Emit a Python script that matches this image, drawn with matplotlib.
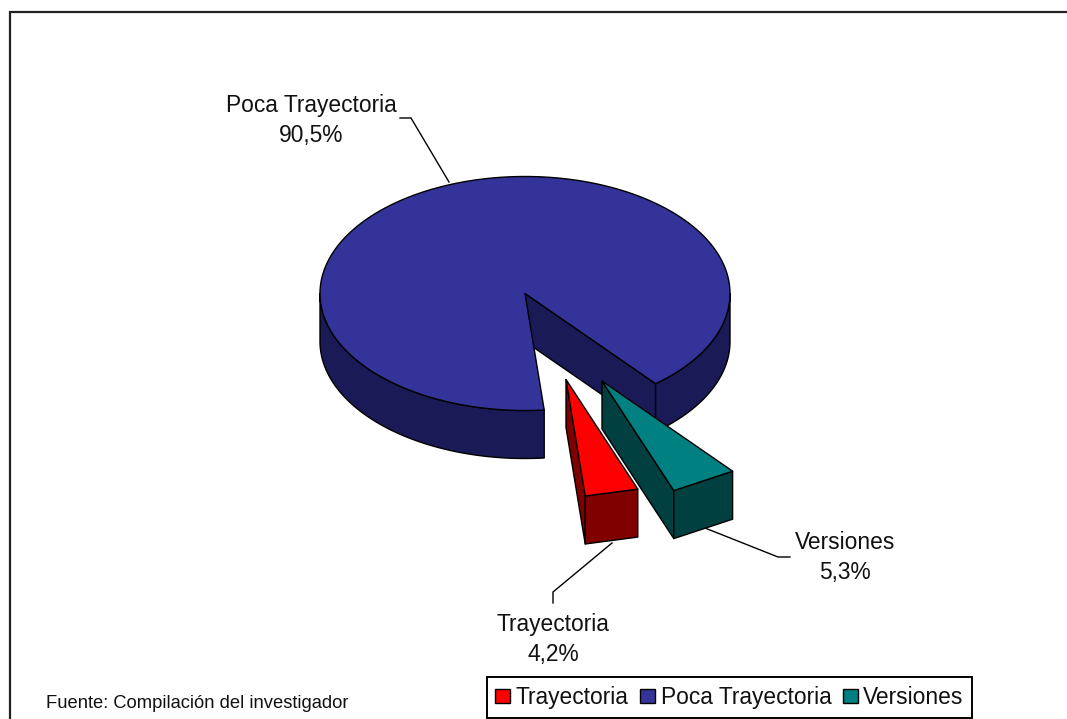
import numpy as np
import matplotlib
matplotlib.use("Agg")
import matplotlib.pyplot as plt
from matplotlib.patches import Polygon, Patch

categories = ["Trayectoria", "Poca Trayectoria", "Versiones"]
values = [4.2, 90.5, 5.3]
value_labels = ["4,2%", "90,5%", "5,3%"]
top_colors = ["#FF0000", "#333399", "#008080"]
side_colors = ["#800000", "#1A1A57", "#004040"]

W, H = 1067, 719
CX, CY, RX, RY, DEPTH = 525.0, 293.5, 205.0, 117.0, 48.0
# Angle (degrees, clockwise on screen from the +x axis) where the first slice starts
START = 69.5
OFFSETS = [(41, 86), (0, 0), (77, 87.5)]

plt.rcParams["font.family"] = ["Liberation Sans", "DejaVu Sans"]
fig = plt.figure(figsize=(W / 100, H / 100), dpi=100)
ax = fig.add_axes([0, 0, 1, 1])
ax.set_xlim(0, W)
ax.set_ylim(H, 0)
ax.axis("off")

EDGE = dict(edgecolor="black", linewidth=1.0, joinstyle="round")


def arc(a0, a1, cx, cy):
    span = abs(a1 - a0)
    # Narrow slices have a straight outer edge in the reference
    n = 2 if span < 25 else int(span * 2) + 1
    t = np.radians(np.linspace(a0, a1, n))
    return np.column_stack([cx + RX * np.cos(t), cy + RY * np.sin(t)])


def wall(a0, a1, cx, cy, color, z):
    """Outer wall between two angles, keeping only the part that faces the viewer."""
    for k in (0, 360):
        lo, hi = max(a0, k), min(a1, k + 180)
        if hi > lo:
            upper = arc(lo, hi, cx, cy)
            lower = arc(hi, lo, cx, cy + DEPTH)
            ax.add_patch(Polygon(np.vstack([upper, lower]), closed=True,
                                 facecolor=color, zorder=z, **EDGE))


def radial_face(a, cx, cy, color, z):
    t = np.radians(a)
    ex, ey = cx + RX * np.cos(t), cy + RY * np.sin(t)
    ax.add_patch(Polygon([(cx, cy), (ex, ey), (ex, ey + DEPTH), (cx, cy + DEPTH)],
                         closed=True, facecolor=color, zorder=z, **EDGE))


def top(a0, a1, cx, cy, color, z):
    pts = np.vstack([[(cx, cy)], arc(a0, a1, cx, cy)])
    ax.add_patch(Polygon(pts, closed=True, facecolor=color, zorder=z, **EDGE))


# Slice angles are derived from the values, running clockwise
spans = []
a = START
for v in values:
    spans.append((a, a + v * 3.6))
    a += v * 3.6

# Draw order: main pie first, then the exploded slices
for i, z in ((1, 2), (0, 4), (2, 6)):
    a0, a1 = spans[i]
    cx, cy = CX + OFFSETS[i][0], CY + OFFSETS[i][1]
    radial_face(a1, cx, cy, side_colors[i], z)
    wall(a0, a1, cx, cy, side_colors[i], z + 0.1)
    top(a0, a1, cx, cy, top_colors[i], z + 0.2)

# Leader lines
LEADERS = [
    [(612, 543), (553, 592), (553, 603)],
    [(400, 118), (411, 118), (449, 182)],
    [(705, 528), (778, 557), (790, 557)],
]
for pts in LEADERS:
    xs, ys = zip(*pts)
    ax.plot(xs, ys, color="black", lw=1.0, zorder=1.5, solid_joinstyle="miter")

# Data labels
LABEL_POS = [(553, 639.5), (311, 120.5), (845, 557.5)]
for (x, y), name, val in zip(LABEL_POS, categories, value_labels):
    ax.text(x, y, f"{name}\n{val}", ha="center", va="center", fontsize=16.4,
            color="#111111", linespacing=1.42, zorder=9)

ax.text(46, 703, "Fuente: Compilación del investigador", ha="left", va="center",
        fontsize=13.2, color="#111111", zorder=9)

# Chart frame: only top and left edges fall inside the picture
ax.plot([10, 10, W], [H, 11.5, 11.5], color="#222222", lw=1.6, zorder=1,
        solid_joinstyle="miter")

# Legend
handles = [Patch(facecolor=c, edgecolor="black", linewidth=1.0) for c in top_colors]
leg = ax.legend(handles, categories, ncol=3, loc="center",
                bbox_to_anchor=(729.5, 697.5), bbox_transform=ax.transData,
                fontsize=16.4, frameon=True, fancybox=False, framealpha=1,
                edgecolor="black", handlelength=0.65, handleheight=0.6,
                handletextpad=0.25, columnspacing=0.5, borderpad=0.38,
                borderaxespad=0)
leg.get_frame().set_linewidth(1.4)
leg.set_zorder(10)
for t in leg.get_texts():
    t.set_color("#111111")

fig.savefig("out.png", dpi=100, facecolor="white")
